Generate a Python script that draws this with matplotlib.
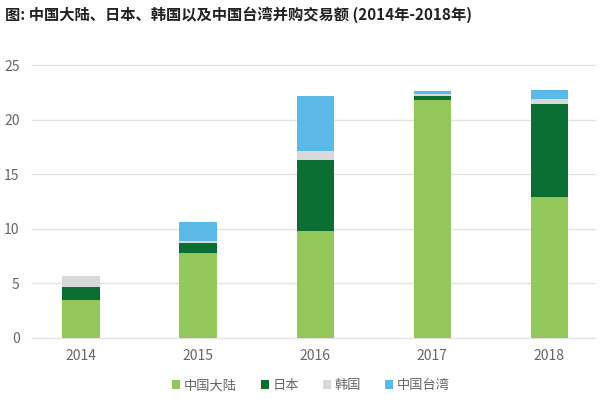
import numpy as np
import matplotlib.pyplot as plt

plt.rcParams['font.family'] = ['Noto Sans CJK SC', 'DejaVu Sans']

years = ['2014', '2015', '2016', '2017', '2018']
mainland = [3.5, 7.8, 9.8, 21.8, 12.9]
japan = [1.2, 0.9, 6.5, 0.4, 8.5]
korea = [1.0, 0.2, 0.8, 0.15, 0.5]
taiwan = [0.0, 1.7, 5.1, 0.25, 0.8]

labels = ['中国大陆', '日本', '韩国', '中国台湾']
colors = ['#93c75a', '#0b6e32', '#d9d9d9', '#5bb9e8']

fig = plt.figure(figsize=(6.04, 3.99), dpi=100)
ax = fig.add_axes([0.053, 0.153, 0.932, 0.684])

x = np.arange(len(years))
bottom = np.zeros(len(years))
for vals, lab, col in zip([mainland, japan, korea, taiwan], labels, colors):
    ax.bar(x, vals, 0.32, bottom=bottom, color=col, label=lab, zorder=3)
    bottom += np.array(vals)

ax.set_xlim(-0.42, 4.39)
ax.set_ylim(0, 25)
ax.set_yticks([0, 5, 10, 15, 20, 25])
ax.set_xticks(x)
ax.set_xticklabels(years)
ax.grid(axis='y', color='#e3e3e3', linewidth=1, zorder=0)
for gl in ax.get_ygridlines():
    gl.set_clip_on(False)
for s in ax.spines.values():
    s.set_visible(False)
ax.tick_params(length=0, labelsize=10, colors='#666666', pad=8)
ax.tick_params(axis='y', pad=9)

fig.text(0.008, 0.962, '图: 中国大陆、日本、韩国以及中国台湾并购交易额 (2014年-2018年)',
         fontsize=11, fontweight='bold', color='#222222', va='center')

fig.legend(loc='center', bbox_to_anchor=(0.515, 0.033), ncol=4, frameon=False,
           fontsize=9.5, handlelength=0.6, handleheight=0.6, handletextpad=0.3,
           columnspacing=1.8, labelcolor='#666666')

fig.savefig('out.png', dpi=100)
